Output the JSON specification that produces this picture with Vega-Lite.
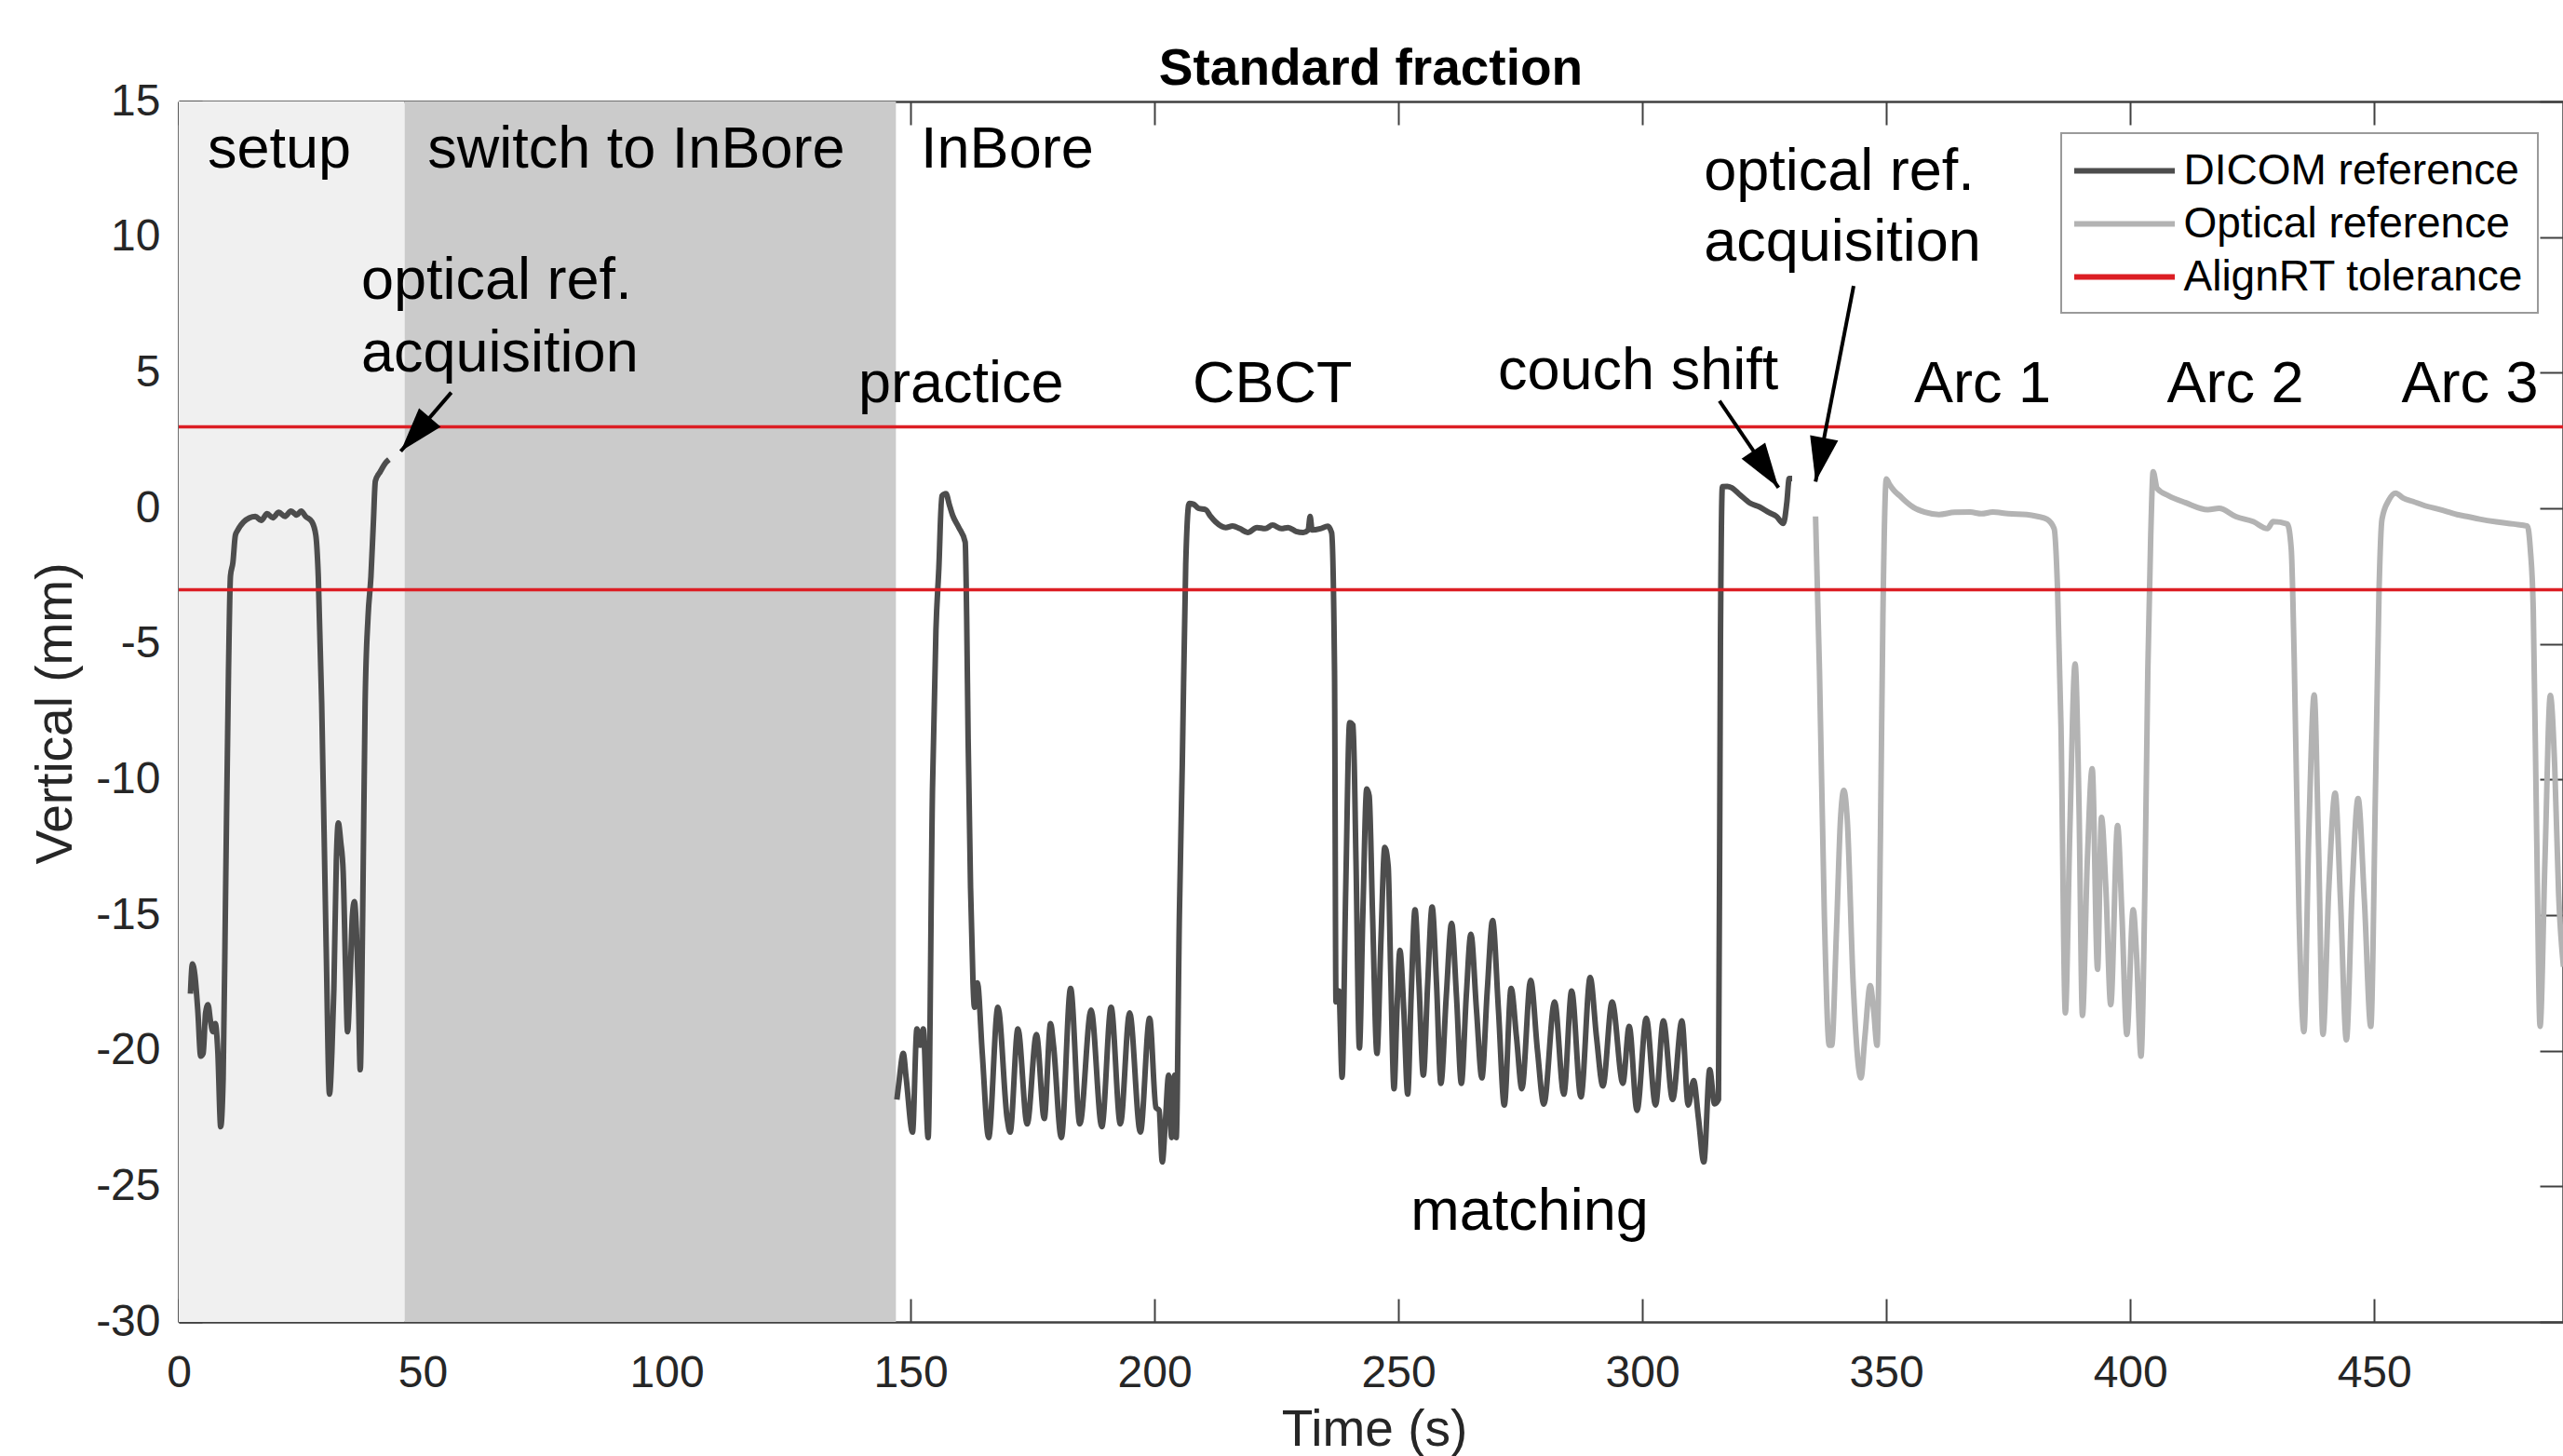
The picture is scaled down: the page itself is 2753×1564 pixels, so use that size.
{
  "$schema": "https://vega.github.io/schema/vega-lite/v6.json",
  "width": 2561,
  "height": 1311,
  "autosize": {"type": "none"},
  "padding": {"left": 192, "top": 109, "right": 0, "bottom": 144},
  "background": "white",
  "title": {"text": "Standard fraction", "anchor": "middle", "frame": "group", "fontSize": 55, "fontWeight": "bold", "font": "Liberation Sans", "color": "#000000", "offset": 17, "dy": 78, "baseline": "alphabetic"},
  "datasets": {
    "phases": [
      {"phase": "setup", "start": 0, "end": 46.3},
      {"phase": "switch to InBore", "start": 46.3, "end": 147.0}
    ],
    "tolerance": [
      {"ref": "AlignRT tolerance", "v": 3},
      {"ref": "AlignRT tolerance", "v": -3}
    ],
    "labels": [
      {"label": "setup", "t": 5.9, "v": 12.57},
      {"label": "switch to InBore", "t": 51.0, "v": 12.57},
      {"label": "InBore", "t": 152.1, "v": 12.57},
      {"label": "optical ref.", "t": 37.4, "v": 7.71},
      {"label": "acquisition", "t": 37.4, "v": 5.05},
      {"label": "practice", "t": 139.3, "v": 3.92},
      {"label": "CBCT", "t": 207.8, "v": 3.92},
      {"label": "couch shift", "t": 270.4, "v": 4.4},
      {"label": "optical ref.", "t": 312.6, "v": 11.74},
      {"label": "acquisition", "t": 312.6, "v": 9.14},
      {"label": "Arc 1", "t": 355.7, "v": 3.92},
      {"label": "Arc 2", "t": 407.5, "v": 3.92},
      {"label": "Arc 3", "t": 455.6, "v": 3.92},
      {"label": "matching", "t": 252.5, "v": -26.59}
    ],
    "arrows": [
      {"id": "a1", "t0": 55.86, "v0": 4.27, "t1": 45.5, "v1": 2.1},
      {"id": "a2", "t0": 315.8, "v0": 3.96, "t1": 327.9, "v1": 0.76},
      {"id": "a3", "t0": 343.3, "v0": 8.2, "t1": 335.5, "v1": 0.98}
    ],
    "trace": [
      {"t": 2.4, "v": -17.9, "ref": "DICOM reference", "seg": 1},
      {"t": 2.8, "v": -16.8, "ref": "DICOM reference", "seg": 1},
      {"t": 3.3, "v": -17.2, "ref": "DICOM reference", "seg": 1},
      {"t": 3.9, "v": -18.5, "ref": "DICOM reference", "seg": 1},
      {"t": 4.5, "v": -20.2, "ref": "DICOM reference", "seg": 1},
      {"t": 5.0, "v": -20.1, "ref": "DICOM reference", "seg": 1},
      {"t": 5.5, "v": -18.6, "ref": "DICOM reference", "seg": 1},
      {"t": 6.0, "v": -18.3, "ref": "DICOM reference", "seg": 1},
      {"t": 6.5, "v": -18.9, "ref": "DICOM reference", "seg": 1},
      {"t": 7.0, "v": -19.3, "ref": "DICOM reference", "seg": 1},
      {"t": 7.5, "v": -19.0, "ref": "DICOM reference", "seg": 1},
      {"t": 8.0, "v": -20.0, "ref": "DICOM reference", "seg": 1},
      {"t": 8.6, "v": -22.8, "ref": "DICOM reference", "seg": 1},
      {"t": 9.1, "v": -21.0, "ref": "DICOM reference", "seg": 1},
      {"t": 9.6, "v": -14.2, "ref": "DICOM reference", "seg": 1},
      {"t": 10.2, "v": -6.0, "ref": "DICOM reference", "seg": 1},
      {"t": 10.6, "v": -2.5, "ref": "DICOM reference", "seg": 1},
      {"t": 11.1, "v": -2.0, "ref": "DICOM reference", "seg": 1},
      {"t": 11.6, "v": -1.0, "ref": "DICOM reference", "seg": 1},
      {"t": 12.1, "v": -0.8, "ref": "DICOM reference", "seg": 1},
      {"t": 13.3, "v": -0.5, "ref": "DICOM reference", "seg": 1},
      {"t": 14.5, "v": -0.35, "ref": "DICOM reference", "seg": 1},
      {"t": 15.7, "v": -0.3, "ref": "DICOM reference", "seg": 1},
      {"t": 16.9, "v": -0.45, "ref": "DICOM reference", "seg": 1},
      {"t": 18.1, "v": -0.2, "ref": "DICOM reference", "seg": 1},
      {"t": 19.3, "v": -0.35, "ref": "DICOM reference", "seg": 1},
      {"t": 20.5, "v": -0.15, "ref": "DICOM reference", "seg": 1},
      {"t": 21.8, "v": -0.3, "ref": "DICOM reference", "seg": 1},
      {"t": 23.0, "v": -0.1, "ref": "DICOM reference", "seg": 1},
      {"t": 24.2, "v": -0.25, "ref": "DICOM reference", "seg": 1},
      {"t": 25.1, "v": -0.1, "ref": "DICOM reference", "seg": 1},
      {"t": 26.0, "v": -0.3, "ref": "DICOM reference", "seg": 1},
      {"t": 27.3, "v": -0.5, "ref": "DICOM reference", "seg": 1},
      {"t": 28.1, "v": -1.0, "ref": "DICOM reference", "seg": 1},
      {"t": 28.6, "v": -2.5, "ref": "DICOM reference", "seg": 1},
      {"t": 29.3, "v": -7.2, "ref": "DICOM reference", "seg": 1},
      {"t": 30.2, "v": -16.0, "ref": "DICOM reference", "seg": 1},
      {"t": 30.9, "v": -21.6, "ref": "DICOM reference", "seg": 1},
      {"t": 31.4, "v": -20.0, "ref": "DICOM reference", "seg": 1},
      {"t": 31.8, "v": -17.7, "ref": "DICOM reference", "seg": 1},
      {"t": 32.3, "v": -13.0, "ref": "DICOM reference", "seg": 1},
      {"t": 32.7, "v": -11.6, "ref": "DICOM reference", "seg": 1},
      {"t": 33.2, "v": -12.3, "ref": "DICOM reference", "seg": 1},
      {"t": 33.7, "v": -13.4, "ref": "DICOM reference", "seg": 1},
      {"t": 34.2, "v": -17.0, "ref": "DICOM reference", "seg": 1},
      {"t": 34.6, "v": -19.3, "ref": "DICOM reference", "seg": 1},
      {"t": 35.1, "v": -17.5, "ref": "DICOM reference", "seg": 1},
      {"t": 35.6, "v": -15.0, "ref": "DICOM reference", "seg": 1},
      {"t": 36.0, "v": -14.5, "ref": "DICOM reference", "seg": 1},
      {"t": 36.4, "v": -15.5, "ref": "DICOM reference", "seg": 1},
      {"t": 36.8, "v": -17.7, "ref": "DICOM reference", "seg": 1},
      {"t": 37.2, "v": -20.7, "ref": "DICOM reference", "seg": 1},
      {"t": 37.7, "v": -15.0, "ref": "DICOM reference", "seg": 1},
      {"t": 38.2, "v": -7.2, "ref": "DICOM reference", "seg": 1},
      {"t": 38.8, "v": -4.0, "ref": "DICOM reference", "seg": 1},
      {"t": 39.4, "v": -2.5, "ref": "DICOM reference", "seg": 1},
      {"t": 39.9, "v": -0.5, "ref": "DICOM reference", "seg": 1},
      {"t": 40.3, "v": 1.0, "ref": "DICOM reference", "seg": 1},
      {"t": 41.3, "v": 1.35, "ref": "DICOM reference", "seg": 1},
      {"t": 42.5, "v": 1.7, "ref": "DICOM reference", "seg": 1},
      {"t": 43.1, "v": 1.8, "ref": "DICOM reference", "seg": 1},

      {"t": 147.2, "v": -21.8, "ref": "DICOM reference", "seg": 2},
      {"t": 147.6, "v": -21.2, "ref": "DICOM reference", "seg": 2},
      {"t": 148.5, "v": -20.1, "ref": "DICOM reference", "seg": 2},
      {"t": 149.1, "v": -21.0, "ref": "DICOM reference", "seg": 2},
      {"t": 150.4, "v": -23.0, "ref": "DICOM reference", "seg": 2},
      {"t": 151.3, "v": -19.2, "ref": "DICOM reference", "seg": 2},
      {"t": 152.0, "v": -19.8, "ref": "DICOM reference", "seg": 2},
      {"t": 152.6, "v": -19.2, "ref": "DICOM reference", "seg": 2},
      {"t": 153.6, "v": -23.2, "ref": "DICOM reference", "seg": 2},
      {"t": 154.5, "v": -10.3, "ref": "DICOM reference", "seg": 2},
      {"t": 155.2, "v": -4.5, "ref": "DICOM reference", "seg": 2},
      {"t": 155.8, "v": -2.2, "ref": "DICOM reference", "seg": 2},
      {"t": 156.4, "v": 0.45, "ref": "DICOM reference", "seg": 2},
      {"t": 157.25, "v": 0.54, "ref": "DICOM reference", "seg": 2},
      {"t": 158.0, "v": 0.1, "ref": "DICOM reference", "seg": 2},
      {"t": 158.65, "v": -0.27, "ref": "DICOM reference", "seg": 2},
      {"t": 159.9, "v": -0.71, "ref": "DICOM reference", "seg": 2},
      {"t": 161.2, "v": -1.25, "ref": "DICOM reference", "seg": 2},
      {"t": 161.5, "v": -4.0, "ref": "DICOM reference", "seg": 2},
      {"t": 161.8, "v": -8.5, "ref": "DICOM reference", "seg": 2},
      {"t": 162.3, "v": -14.0, "ref": "DICOM reference", "seg": 2},
      {"t": 162.8, "v": -17.5, "ref": "DICOM reference", "seg": 2},
      {"t": 163.1, "v": -18.4, "ref": "DICOM reference", "seg": 2},
      {"t": 163.7, "v": -17.5, "ref": "DICOM reference", "seg": 2},
      {"t": 164.7, "v": -20.1, "ref": "DICOM reference", "seg": 2},
      {"t": 166.0, "v": -23.2, "ref": "DICOM reference", "seg": 2},
      {"t": 167.9, "v": -18.4, "ref": "DICOM reference", "seg": 2},
      {"t": 169.8, "v": -22.5, "ref": "DICOM reference", "seg": 2},
      {"t": 170.4, "v": -23.0, "ref": "DICOM reference", "seg": 2},
      {"t": 172.0, "v": -19.2, "ref": "DICOM reference", "seg": 2},
      {"t": 173.9, "v": -22.7, "ref": "DICOM reference", "seg": 2},
      {"t": 175.8, "v": -19.4, "ref": "DICOM reference", "seg": 2},
      {"t": 177.4, "v": -22.5, "ref": "DICOM reference", "seg": 2},
      {"t": 178.7, "v": -19.0, "ref": "DICOM reference", "seg": 2},
      {"t": 179.3, "v": -19.8, "ref": "DICOM reference", "seg": 2},
      {"t": 180.9, "v": -23.2, "ref": "DICOM reference", "seg": 2},
      {"t": 182.8, "v": -17.7, "ref": "DICOM reference", "seg": 2},
      {"t": 184.7, "v": -22.7, "ref": "DICOM reference", "seg": 2},
      {"t": 187.0, "v": -18.5, "ref": "DICOM reference", "seg": 2},
      {"t": 189.2, "v": -22.8, "ref": "DICOM reference", "seg": 2},
      {"t": 191.1, "v": -18.4, "ref": "DICOM reference", "seg": 2},
      {"t": 193.0, "v": -22.7, "ref": "DICOM reference", "seg": 2},
      {"t": 194.9, "v": -18.6, "ref": "DICOM reference", "seg": 2},
      {"t": 197.1, "v": -23.0, "ref": "DICOM reference", "seg": 2},
      {"t": 199.0, "v": -18.8, "ref": "DICOM reference", "seg": 2},
      {"t": 200.3, "v": -22.1, "ref": "DICOM reference", "seg": 2},
      {"t": 200.95, "v": -22.2, "ref": "DICOM reference", "seg": 2},
      {"t": 201.6, "v": -24.1, "ref": "DICOM reference", "seg": 2},
      {"t": 202.2, "v": -22.7, "ref": "DICOM reference", "seg": 2},
      {"t": 202.9, "v": -20.9, "ref": "DICOM reference", "seg": 2},
      {"t": 203.5, "v": -23.2, "ref": "DICOM reference", "seg": 2},
      {"t": 204.1, "v": -20.9, "ref": "DICOM reference", "seg": 2},
      {"t": 204.45, "v": -23.2, "ref": "DICOM reference", "seg": 2},
      {"t": 205.1, "v": -15.0, "ref": "DICOM reference", "seg": 2},
      {"t": 205.7, "v": -9.4, "ref": "DICOM reference", "seg": 2},
      {"t": 206.4, "v": -2.06, "ref": "DICOM reference", "seg": 2},
      {"t": 207.1, "v": 0.18, "ref": "DICOM reference", "seg": 2},
      {"t": 208.0, "v": 0.15, "ref": "DICOM reference", "seg": 2},
      {"t": 209.0, "v": 0.0, "ref": "DICOM reference", "seg": 2},
      {"t": 210.5, "v": -0.05, "ref": "DICOM reference", "seg": 2},
      {"t": 211.5, "v": -0.3, "ref": "DICOM reference", "seg": 2},
      {"t": 212.5, "v": -0.5, "ref": "DICOM reference", "seg": 2},
      {"t": 214.6, "v": -0.71, "ref": "DICOM reference", "seg": 2},
      {"t": 216.0, "v": -0.65, "ref": "DICOM reference", "seg": 2},
      {"t": 217.5, "v": -0.75, "ref": "DICOM reference", "seg": 2},
      {"t": 219.1, "v": -0.89, "ref": "DICOM reference", "seg": 2},
      {"t": 221.0, "v": -0.71, "ref": "DICOM reference", "seg": 2},
      {"t": 222.7, "v": -0.75, "ref": "DICOM reference", "seg": 2},
      {"t": 224.2, "v": -0.62, "ref": "DICOM reference", "seg": 2},
      {"t": 226.0, "v": -0.75, "ref": "DICOM reference", "seg": 2},
      {"t": 227.4, "v": -0.71, "ref": "DICOM reference", "seg": 2},
      {"t": 229.0, "v": -0.85, "ref": "DICOM reference", "seg": 2},
      {"t": 230.5, "v": -0.89, "ref": "DICOM reference", "seg": 2},
      {"t": 231.5, "v": -0.8, "ref": "DICOM reference", "seg": 2},
      {"t": 231.9, "v": -0.3, "ref": "DICOM reference", "seg": 2},
      {"t": 232.3, "v": -0.8, "ref": "DICOM reference", "seg": 2},
      {"t": 234.0, "v": -0.75, "ref": "DICOM reference", "seg": 2},
      {"t": 235.5, "v": -0.66, "ref": "DICOM reference", "seg": 2},
      {"t": 236.3, "v": -0.9, "ref": "DICOM reference", "seg": 2},
      {"t": 236.9, "v": -6.0, "ref": "DICOM reference", "seg": 2},
      {"t": 237.2, "v": -18.2, "ref": "DICOM reference", "seg": 2},
      {"t": 237.8, "v": -17.8, "ref": "DICOM reference", "seg": 2},
      {"t": 238.45, "v": -20.98, "ref": "DICOM reference", "seg": 2},
      {"t": 239.2, "v": -14.0, "ref": "DICOM reference", "seg": 2},
      {"t": 240.0, "v": -7.9, "ref": "DICOM reference", "seg": 2},
      {"t": 240.7, "v": -8.0, "ref": "DICOM reference", "seg": 2},
      {"t": 241.3, "v": -13.0, "ref": "DICOM reference", "seg": 2},
      {"t": 242.0, "v": -19.9, "ref": "DICOM reference", "seg": 2},
      {"t": 242.7, "v": -15.0, "ref": "DICOM reference", "seg": 2},
      {"t": 243.5, "v": -10.35, "ref": "DICOM reference", "seg": 2},
      {"t": 244.0, "v": -10.6, "ref": "DICOM reference", "seg": 2},
      {"t": 244.7, "v": -15.0, "ref": "DICOM reference", "seg": 2},
      {"t": 245.6, "v": -20.1, "ref": "DICOM reference", "seg": 2},
      {"t": 246.4, "v": -16.0, "ref": "DICOM reference", "seg": 2},
      {"t": 247.2, "v": -12.5, "ref": "DICOM reference", "seg": 2},
      {"t": 247.9, "v": -13.2, "ref": "DICOM reference", "seg": 2},
      {"t": 248.4, "v": -17.0, "ref": "DICOM reference", "seg": 2},
      {"t": 249.1, "v": -21.4, "ref": "DICOM reference", "seg": 2},
      {"t": 249.7, "v": -18.5, "ref": "DICOM reference", "seg": 2},
      {"t": 250.3, "v": -16.3, "ref": "DICOM reference", "seg": 2},
      {"t": 251.1, "v": -18.5, "ref": "DICOM reference", "seg": 2},
      {"t": 251.9, "v": -21.6, "ref": "DICOM reference", "seg": 2},
      {"t": 252.6, "v": -18.0, "ref": "DICOM reference", "seg": 2},
      {"t": 253.4, "v": -14.8, "ref": "DICOM reference", "seg": 2},
      {"t": 254.2, "v": -17.5, "ref": "DICOM reference", "seg": 2},
      {"t": 255.1, "v": -20.9, "ref": "DICOM reference", "seg": 2},
      {"t": 256.0, "v": -17.5, "ref": "DICOM reference", "seg": 2},
      {"t": 256.9, "v": -14.7, "ref": "DICOM reference", "seg": 2},
      {"t": 257.8, "v": -17.5, "ref": "DICOM reference", "seg": 2},
      {"t": 258.7, "v": -21.2, "ref": "DICOM reference", "seg": 2},
      {"t": 259.8, "v": -18.0, "ref": "DICOM reference", "seg": 2},
      {"t": 260.9, "v": -15.3, "ref": "DICOM reference", "seg": 2},
      {"t": 261.9, "v": -18.0, "ref": "DICOM reference", "seg": 2},
      {"t": 262.9, "v": -21.2, "ref": "DICOM reference", "seg": 2},
      {"t": 263.9, "v": -18.0, "ref": "DICOM reference", "seg": 2},
      {"t": 264.85, "v": -15.7, "ref": "DICOM reference", "seg": 2},
      {"t": 266.0, "v": -18.5, "ref": "DICOM reference", "seg": 2},
      {"t": 267.1, "v": -21.0, "ref": "DICOM reference", "seg": 2},
      {"t": 268.2, "v": -17.8, "ref": "DICOM reference", "seg": 2},
      {"t": 269.3, "v": -15.2, "ref": "DICOM reference", "seg": 2},
      {"t": 270.5, "v": -18.5, "ref": "DICOM reference", "seg": 2},
      {"t": 271.7, "v": -22.0, "ref": "DICOM reference", "seg": 2},
      {"t": 273.1, "v": -17.7, "ref": "DICOM reference", "seg": 2},
      {"t": 274.2, "v": -19.5, "ref": "DICOM reference", "seg": 2},
      {"t": 275.3, "v": -21.4, "ref": "DICOM reference", "seg": 2},
      {"t": 277.1, "v": -17.4, "ref": "DICOM reference", "seg": 2},
      {"t": 278.5, "v": -20.0, "ref": "DICOM reference", "seg": 2},
      {"t": 279.8, "v": -21.97, "ref": "DICOM reference", "seg": 2},
      {"t": 282.0, "v": -18.2, "ref": "DICOM reference", "seg": 2},
      {"t": 283.9, "v": -21.6, "ref": "DICOM reference", "seg": 2},
      {"t": 285.5, "v": -17.8, "ref": "DICOM reference", "seg": 2},
      {"t": 287.4, "v": -21.7, "ref": "DICOM reference", "seg": 2},
      {"t": 289.3, "v": -17.3, "ref": "DICOM reference", "seg": 2},
      {"t": 290.6, "v": -19.5, "ref": "DICOM reference", "seg": 2},
      {"t": 291.9, "v": -21.3, "ref": "DICOM reference", "seg": 2},
      {"t": 293.8, "v": -18.2, "ref": "DICOM reference", "seg": 2},
      {"t": 296.0, "v": -21.2, "ref": "DICOM reference", "seg": 2},
      {"t": 297.3, "v": -19.1, "ref": "DICOM reference", "seg": 2},
      {"t": 298.9, "v": -22.2, "ref": "DICOM reference", "seg": 2},
      {"t": 300.8, "v": -18.8, "ref": "DICOM reference", "seg": 2},
      {"t": 302.7, "v": -22.0, "ref": "DICOM reference", "seg": 2},
      {"t": 304.3, "v": -18.9, "ref": "DICOM reference", "seg": 2},
      {"t": 306.2, "v": -21.8, "ref": "DICOM reference", "seg": 2},
      {"t": 308.1, "v": -18.9, "ref": "DICOM reference", "seg": 2},
      {"t": 309.4, "v": -22.0, "ref": "DICOM reference", "seg": 2},
      {"t": 310.5, "v": -21.1, "ref": "DICOM reference", "seg": 2},
      {"t": 311.5, "v": -22.5, "ref": "DICOM reference", "seg": 2},
      {"t": 312.6, "v": -24.1, "ref": "DICOM reference", "seg": 2},
      {"t": 313.8, "v": -20.7, "ref": "DICOM reference", "seg": 2},
      {"t": 314.8, "v": -21.96, "ref": "DICOM reference", "seg": 2},
      {"t": 315.6, "v": -21.8, "ref": "DICOM reference", "seg": 2},
      {"t": 316.0, "v": -5.0, "ref": "DICOM reference", "seg": 2},
      {"t": 316.4, "v": 0.8, "ref": "DICOM reference", "seg": 2},
      {"t": 317.4, "v": 0.81, "ref": "DICOM reference", "seg": 2},
      {"t": 318.3, "v": 0.76, "ref": "DICOM reference", "seg": 2},
      {"t": 320.0, "v": 0.5, "ref": "DICOM reference", "seg": 2},
      {"t": 322.1, "v": 0.19, "ref": "DICOM reference", "seg": 2},
      {"t": 324.0, "v": 0.05, "ref": "DICOM reference", "seg": 2},
      {"t": 326.0, "v": -0.16, "ref": "DICOM reference", "seg": 2},
      {"t": 327.5, "v": -0.3, "ref": "DICOM reference", "seg": 2},
      {"t": 328.9, "v": -0.56, "ref": "DICOM reference", "seg": 2},
      {"t": 329.6, "v": 0.2, "ref": "DICOM reference", "seg": 2},
      {"t": 330.1, "v": 1.1, "ref": "DICOM reference", "seg": 2},
      {"t": 330.7, "v": 1.1, "ref": "DICOM reference", "seg": 2},

      {"t": 335.5, "v": -0.3, "ref": "Optical reference", "seg": 3},
      {"t": 336.3, "v": -6.0, "ref": "Optical reference", "seg": 3},
      {"t": 337.3, "v": -15.0, "ref": "Optical reference", "seg": 3},
      {"t": 338.3, "v": -19.8, "ref": "Optical reference", "seg": 3},
      {"t": 338.8, "v": -19.8, "ref": "Optical reference", "seg": 3},
      {"t": 339.8, "v": -15.5, "ref": "Optical reference", "seg": 3},
      {"t": 340.6, "v": -11.5, "ref": "Optical reference", "seg": 3},
      {"t": 341.3, "v": -10.4, "ref": "Optical reference", "seg": 3},
      {"t": 342.0, "v": -11.5, "ref": "Optical reference", "seg": 3},
      {"t": 343.2, "v": -17.5, "ref": "Optical reference", "seg": 3},
      {"t": 344.8, "v": -21.0, "ref": "Optical reference", "seg": 3},
      {"t": 345.6, "v": -19.5, "ref": "Optical reference", "seg": 3},
      {"t": 346.7, "v": -17.6, "ref": "Optical reference", "seg": 3},
      {"t": 347.4, "v": -18.5, "ref": "Optical reference", "seg": 3},
      {"t": 348.1, "v": -19.8, "ref": "Optical reference", "seg": 3},
      {"t": 348.8, "v": -12.0, "ref": "Optical reference", "seg": 3},
      {"t": 349.3, "v": -4.0, "ref": "Optical reference", "seg": 3},
      {"t": 350.0, "v": 1.08, "ref": "Optical reference", "seg": 3},
      {"t": 350.6, "v": 0.9, "ref": "Optical reference", "seg": 3},
      {"t": 351.6, "v": 0.65, "ref": "Optical reference", "seg": 3},
      {"t": 352.7, "v": 0.47, "ref": "Optical reference", "seg": 3},
      {"t": 354.0, "v": 0.25, "ref": "Optical reference", "seg": 3},
      {"t": 355.6, "v": 0.03, "ref": "Optical reference", "seg": 3},
      {"t": 357.9, "v": -0.14, "ref": "Optical reference", "seg": 3},
      {"t": 360.8, "v": -0.23, "ref": "Optical reference", "seg": 3},
      {"t": 364.0, "v": -0.15, "ref": "Optical reference", "seg": 3},
      {"t": 367.2, "v": -0.14, "ref": "Optical reference", "seg": 3},
      {"t": 369.5, "v": -0.2, "ref": "Optical reference", "seg": 3},
      {"t": 371.8, "v": -0.14, "ref": "Optical reference", "seg": 3},
      {"t": 375.0, "v": -0.2, "ref": "Optical reference", "seg": 3},
      {"t": 378.8, "v": -0.23, "ref": "Optical reference", "seg": 3},
      {"t": 381.0, "v": -0.3, "ref": "Optical reference", "seg": 3},
      {"t": 382.9, "v": -0.4, "ref": "Optical reference", "seg": 3},
      {"t": 384.4, "v": -0.75, "ref": "Optical reference", "seg": 3},
      {"t": 385.1, "v": -3.0, "ref": "Optical reference", "seg": 3},
      {"t": 385.8, "v": -8.0, "ref": "Optical reference", "seg": 3},
      {"t": 386.7, "v": -18.6, "ref": "Optical reference", "seg": 3},
      {"t": 387.6, "v": -12.0, "ref": "Optical reference", "seg": 3},
      {"t": 388.7, "v": -5.74, "ref": "Optical reference", "seg": 3},
      {"t": 389.5, "v": -11.0, "ref": "Optical reference", "seg": 3},
      {"t": 390.2, "v": -18.7, "ref": "Optical reference", "seg": 3},
      {"t": 391.2, "v": -13.0, "ref": "Optical reference", "seg": 3},
      {"t": 392.2, "v": -9.6, "ref": "Optical reference", "seg": 3},
      {"t": 393.3, "v": -17.0, "ref": "Optical reference", "seg": 3},
      {"t": 394.1, "v": -11.4, "ref": "Optical reference", "seg": 3},
      {"t": 395.0, "v": -14.0, "ref": "Optical reference", "seg": 3},
      {"t": 396.0, "v": -18.3, "ref": "Optical reference", "seg": 3},
      {"t": 397.4, "v": -11.7, "ref": "Optical reference", "seg": 3},
      {"t": 398.3, "v": -15.0, "ref": "Optical reference", "seg": 3},
      {"t": 399.3, "v": -19.4, "ref": "Optical reference", "seg": 3},
      {"t": 400.6, "v": -14.8, "ref": "Optical reference", "seg": 3},
      {"t": 401.3, "v": -16.5, "ref": "Optical reference", "seg": 3},
      {"t": 402.2, "v": -20.2, "ref": "Optical reference", "seg": 3},
      {"t": 403.0, "v": -14.0, "ref": "Optical reference", "seg": 3},
      {"t": 403.6, "v": -6.0, "ref": "Optical reference", "seg": 3},
      {"t": 404.2, "v": -1.0, "ref": "Optical reference", "seg": 3},
      {"t": 404.7, "v": 1.35, "ref": "Optical reference", "seg": 3},
      {"t": 405.5, "v": 0.73, "ref": "Optical reference", "seg": 3},
      {"t": 407.8, "v": 0.47, "ref": "Optical reference", "seg": 3},
      {"t": 411.3, "v": 0.21, "ref": "Optical reference", "seg": 3},
      {"t": 415.9, "v": -0.05, "ref": "Optical reference", "seg": 3},
      {"t": 418.2, "v": 0.0, "ref": "Optical reference", "seg": 3},
      {"t": 421.7, "v": -0.31, "ref": "Optical reference", "seg": 3},
      {"t": 425.2, "v": -0.49, "ref": "Optical reference", "seg": 3},
      {"t": 428.1, "v": -0.75, "ref": "Optical reference", "seg": 3},
      {"t": 429.3, "v": -0.49, "ref": "Optical reference", "seg": 3},
      {"t": 432.2, "v": -0.58, "ref": "Optical reference", "seg": 3},
      {"t": 433.0, "v": -1.5, "ref": "Optical reference", "seg": 3},
      {"t": 433.6, "v": -5.5, "ref": "Optical reference", "seg": 3},
      {"t": 434.6, "v": -15.0, "ref": "Optical reference", "seg": 3},
      {"t": 435.6, "v": -19.3, "ref": "Optical reference", "seg": 3},
      {"t": 436.6, "v": -12.0, "ref": "Optical reference", "seg": 3},
      {"t": 437.7, "v": -6.88, "ref": "Optical reference", "seg": 3},
      {"t": 438.6, "v": -12.5, "ref": "Optical reference", "seg": 3},
      {"t": 439.5, "v": -19.4, "ref": "Optical reference", "seg": 3},
      {"t": 440.7, "v": -14.0, "ref": "Optical reference", "seg": 3},
      {"t": 442.0, "v": -10.5, "ref": "Optical reference", "seg": 3},
      {"t": 443.1, "v": -14.5, "ref": "Optical reference", "seg": 3},
      {"t": 444.3, "v": -19.6, "ref": "Optical reference", "seg": 3},
      {"t": 445.5, "v": -14.0, "ref": "Optical reference", "seg": 3},
      {"t": 446.7, "v": -10.7, "ref": "Optical reference", "seg": 3},
      {"t": 448.0, "v": -14.5, "ref": "Optical reference", "seg": 3},
      {"t": 449.3, "v": -19.1, "ref": "Optical reference", "seg": 3},
      {"t": 450.3, "v": -10.0, "ref": "Optical reference", "seg": 3},
      {"t": 451.0, "v": -3.0, "ref": "Optical reference", "seg": 3},
      {"t": 451.6, "v": -0.4, "ref": "Optical reference", "seg": 3},
      {"t": 453.0, "v": 0.3, "ref": "Optical reference", "seg": 3},
      {"t": 454.4, "v": 0.56, "ref": "Optical reference", "seg": 3},
      {"t": 455.9, "v": 0.38, "ref": "Optical reference", "seg": 3},
      {"t": 458.0, "v": 0.25, "ref": "Optical reference", "seg": 3},
      {"t": 460.0, "v": 0.12, "ref": "Optical reference", "seg": 3},
      {"t": 463.5, "v": -0.05, "ref": "Optical reference", "seg": 3},
      {"t": 467.0, "v": -0.23, "ref": "Optical reference", "seg": 3},
      {"t": 469.0, "v": -0.3, "ref": "Optical reference", "seg": 3},
      {"t": 471.6, "v": -0.4, "ref": "Optical reference", "seg": 3},
      {"t": 475.0, "v": -0.5, "ref": "Optical reference", "seg": 3},
      {"t": 478.6, "v": -0.58, "ref": "Optical reference", "seg": 3},
      {"t": 481.4, "v": -0.66, "ref": "Optical reference", "seg": 3},
      {"t": 482.0, "v": -1.5, "ref": "Optical reference", "seg": 3},
      {"t": 482.6, "v": -3.7, "ref": "Optical reference", "seg": 3},
      {"t": 483.3, "v": -12.0, "ref": "Optical reference", "seg": 3},
      {"t": 484.0, "v": -19.1, "ref": "Optical reference", "seg": 3},
      {"t": 485.0, "v": -13.0, "ref": "Optical reference", "seg": 3},
      {"t": 486.1, "v": -6.9, "ref": "Optical reference", "seg": 3},
      {"t": 487.0, "v": -9.5, "ref": "Optical reference", "seg": 3},
      {"t": 487.8, "v": -14.2, "ref": "Optical reference", "seg": 3},
      {"t": 488.8, "v": -16.9, "ref": "Optical reference", "seg": 3}
    ]
  },
  "resolve": {"axis": {"x": "independent", "y": "independent"}},
  "layer": [
    {
      "data": {"name": "phases"},
      "mark": {"type": "rect"},
      "encoding": {
        "x": {"field": "start", "type": "quantitative", "scale": {"domain": [0, 488.7], "nice": false, "zero": false},
          "axis": {"orient": "bottom", "values": [0, 50, 100, 150, 200, 250, 300, 350, 400, 450], "labelExpr": "'' + datum.value", "tickSize": -25, "tickWidth": 2, "tickColor": "#404040", "domainColor": "#404040", "domainWidth": 2.5, "labelFontSize": 48, "labelColor": "#262626", "labelFont": "Liberation Sans", "labelPadding": 56, "labelFlush": false, "labelOverlap": false, "grid": false, "title": "Time (s)", "titleFontSize": 55, "titleFontWeight": "normal", "titleFont": "Liberation Sans", "titleColor": "#262626", "titleX": 1284, "titleY": 132, "titleBaseline": "alphabetic", "titleAlign": "center"}},
        "x2": {"field": "end"},
        "fill": {"field": "phase", "type": "nominal", "scale": {"domain": ["setup", "switch to InBore"], "range": ["#f0f0f0", "#cbcbcb"]}, "legend": null}
      }
    },
    {
      "data": {"name": "trace"},
      "mark": {"type": "line", "strokeWidth": 6, "strokeJoin": "round", "interpolate": "monotone", "clip": true},
      "encoding": {
        "x": {"field": "t", "type": "quantitative", "scale": {"domain": [0, 488.7], "nice": false, "zero": false},
          "axis": {"orient": "top", "values": [0, 50, 100, 150, 200, 250, 300, 350, 400, 450], "tickSize": -25, "tickWidth": 2, "tickColor": "#404040", "domainColor": "#404040", "domainWidth": 2.5, "labels": false, "grid": false, "title": null}},
        "y": {"field": "v", "type": "quantitative", "scale": {"domain": [-30, 15], "nice": false, "zero": false},
          "axis": {"orient": "left", "values": [-30, -25, -20, -15, -10, -5, 0, 5, 10, 15], "labelExpr": "'' + datum.value", "tickSize": -25, "tickWidth": 2, "tickColor": "#404040", "domainColor": "#404040", "domainWidth": 2.5, "labelFontSize": 48, "labelColor": "#262626", "labelFont": "Liberation Sans", "labelPadding": 45, "labelOverlap": false, "grid": false, "title": "Vertical (mm)", "titleFontSize": 55, "titleFontWeight": "normal", "titleFont": "Liberation Sans", "titleColor": "#262626", "titleX": -116, "titleY": 657, "titleAngle": 270, "titleBaseline": "alphabetic", "titleAlign": "center"}},
        "color": {"field": "ref", "type": "nominal",
          "scale": {"domain": ["DICOM reference", "Optical reference", "AlignRT tolerance"], "range": ["#4d4d4d", "#b3b3b3", "#dc1e24"]},
          "legend": {"orient": "none", "legendX": 2022, "legendY": 34, "title": null, "symbolType": "M-2.4,0L2.4,0", "symbolSize": 2025, "symbolOffset": 27.5, "symbolStrokeWidth": 6, "labelOffset": 38, "labelLimit": 0, "labelFontSize": 46, "labelFont": "Liberation Sans", "labelColor": "#000000", "fillColor": "#ffffff", "strokeColor": "#9a9a9a", "padding": 15, "rowPadding": 8}},
        "detail": {"field": "seg", "type": "nominal"}
      }
    },
    {
      "data": {"name": "tolerance"},
      "mark": {"type": "rule", "strokeWidth": 3.5},
      "encoding": {
        "y": {"field": "v", "type": "quantitative", "scale": {"domain": [-30, 15], "nice": false, "zero": false},
          "axis": {"orient": "right", "values": [-30, -25, -20, -15, -10, -5, 0, 5, 10, 15], "tickSize": -25, "tickWidth": 2, "tickColor": "#404040", "domainColor": "#404040", "domainWidth": 2.5, "labels": false, "grid": false, "title": null}},
        "color": {"field": "ref", "type": "nominal",
          "scale": {"domain": ["DICOM reference", "Optical reference", "AlignRT tolerance"], "range": ["#4d4d4d", "#b3b3b3", "#dc1e24"]}}
      }
    },
    {
      "data": {"name": "labels"},
      "mark": {"type": "text", "align": "left", "baseline": "alphabetic", "fontSize": 63, "font": "Liberation Sans", "color": "#000000"},
      "encoding": {
        "x": {"field": "t", "type": "quantitative", "scale": {"domain": [0, 488.7], "nice": false, "zero": false}, "axis": null},
        "y": {"field": "v", "type": "quantitative", "scale": {"domain": [-30, 15], "nice": false, "zero": false}, "axis": null},
        "text": {"field": "label"}
      }
    },
    {
      "data": {"name": "arrows"},
      "mark": {"type": "rule", "strokeWidth": 4, "color": "#000000"},
      "encoding": {
        "x": {"field": "t0", "type": "quantitative", "scale": {"domain": [0, 488.7], "nice": false, "zero": false}, "axis": null},
        "y": {"field": "v0", "type": "quantitative", "scale": {"domain": [-30, 15], "nice": false, "zero": false}, "axis": null},
        "x2": {"field": "t1"},
        "y2": {"field": "v1"}
      }
    },
    {
      "data": {"name": "arrows"},
      "transform": [{"filter": {"field": "id", "equal": "a1"}}],
      "mark": {"type": "point", "shape": "M0,0L-0.32,1L0.32,1Z", "size": 9216, "angle": 220.7, "filled": true, "color": "#000000", "opacity": 1},
      "encoding": {
        "x": {"field": "t1", "type": "quantitative", "scale": {"domain": [0, 488.7], "nice": false, "zero": false}, "axis": null},
        "y": {"field": "v1", "type": "quantitative", "scale": {"domain": [-30, 15], "nice": false, "zero": false}, "axis": null}
      }
    },
    {
      "data": {"name": "arrows"},
      "transform": [{"filter": {"field": "id", "equal": "a2"}}],
      "mark": {"type": "point", "shape": "M0,0L-0.32,1L0.32,1Z", "size": 9216, "angle": 145.8, "filled": true, "color": "#000000", "opacity": 1},
      "encoding": {
        "x": {"field": "t1", "type": "quantitative", "scale": {"domain": [0, 488.7], "nice": false, "zero": false}, "axis": null},
        "y": {"field": "v1", "type": "quantitative", "scale": {"domain": [-30, 15], "nice": false, "zero": false}, "axis": null}
      }
    },
    {
      "data": {"name": "arrows"},
      "transform": [{"filter": {"field": "id", "equal": "a3"}}],
      "mark": {"type": "point", "shape": "M0,0L-0.32,1L0.32,1Z", "size": 9216, "angle": 191, "filled": true, "color": "#000000", "opacity": 1},
      "encoding": {
        "x": {"field": "t1", "type": "quantitative", "scale": {"domain": [0, 488.7], "nice": false, "zero": false}, "axis": null},
        "y": {"field": "v1", "type": "quantitative", "scale": {"domain": [-30, 15], "nice": false, "zero": false}, "axis": null}
      }
    }
  ],
  "config": {
    "view": {"stroke": null},
    "font": "Liberation Sans",
    "legend": {"strokeWidth": 2}
  }
}
